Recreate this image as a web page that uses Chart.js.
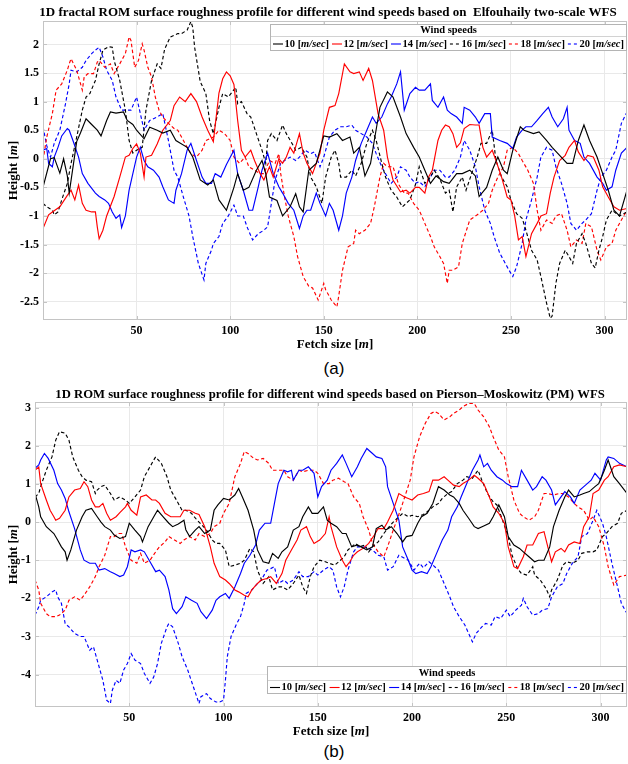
<!DOCTYPE html>
<html>
<head>
<meta charset="utf-8">
<script src="https://cdn.jsdelivr.net/npm/chart.js@4.4.1/dist/chart.umd.min.js"></script>
<style>
  html, body { margin: 0; padding: 0; background: #fff; width: 628px; height: 764px; overflow: hidden; }
  .panel { position: absolute; left: 0; }
  .tag { position: absolute; left: 0; width: 668px; text-align: center; line-height: 20px;
         font: 17px "Liberation Sans", Arial, sans-serif; color: #000; }
</style>
</head>
<body>
<canvas class="panel" id="chartA" width="628" height="355" style="top:0"></canvas>
<div class="tag" style="top:359px">(a)</div>
<canvas class="panel" id="chartB" width="628" height="360" style="top:380px"></canvas>
<div class="tag" style="top:742px">(b)</div>

<script>
// ---- shared legend entries ----
const windSpeeds = ['10', '12', '14', '16', '18', '20'];
const legendTitle = 'Wind speeds';

// ---- (a) Elfouhaily two-scale spectrum: [fetch m, height m] ----
const elf10 = [[0,-0.5],[4,0],[6,0.02],[9,-0.25],[11,0],[13,-0.3],[14,-0.6],[18,0.3],[20,0.45],[23,0.7],[26,0.6],[29,0.5],[31,0.4],[34,0.67],[36,0.82],[39,0.8],[43,0.82],[45,0.67],[48,0.6],[50,0.5],[54,0.35],[57,0.55],[61,0.5],[64,0.45],[68,0.5],[71,0.32],[77,0.2],[80,0.03],[84,-0.37],[88,-0.46],[91,-0.37],[94,-0.72],[98,-0.9],[102,-0.5],[104,-0.26],[107,-0.55],[110,-0.5],[114,-0.2],[117,-0.03],[119,-0.26],[121,-0.67],[125,-0.73],[128,-1.0],[132,-0.84],[135,-0.61],[137,-0.84],[139,-0.93],[142,-0.2],[146,-0.08],[150,0.4],[153,0.38],[157,0.44],[160,0.32],[164,0.38],[166,0.1],[169,0.2],[172,-0.3],[175,-0.08],[177,0.32],[180,0.9],[184,1.17],[187,1.08],[191,0.73],[194,0.44],[198,0.2],[201,0.03],[204,-0.2],[207,-0.43],[210,-0.3],[214,-0.4],[217,-0.43],[221,-0.26],[224,-0.26],[228,-0.2],[231,-0.3],[233,-0.66],[237,-0.5],[240,-0.2],[243,0.03],[246,-0.2],[248,-0.26],[251,0.15],[255,0.56],[257,0.5],[262,0.44],[265,0.47],[269,0.32],[272,0.2],[276,0.06],[280,-0.08],[283,-0.08],[286,0.32],[289,0.59],[292,0.32],[296,0.03],[299,-0.26],[302,-0.55],[305,-0.9],[308,-1.0],[312,-0.55]];
const elf12 = [[0,-1.22],[3,-0.98],[5,-0.93],[9,-0.84],[13,-0.64],[15,-0.55],[17,-0.72],[19,-0.46],[21,-0.78],[23,-0.9],[26,-0.93],[28,-0.93],[29,-1.19],[30,-1.4],[32,-1.25],[34,-1.0],[38,-0.66],[41,-0.32],[44,0.03],[46,0.06],[48,0.18],[50,0.26],[52,0.1],[54,-0.32],[55,0.03],[58,0.06],[61,0.26],[64,0.5],[68,0.67],[70,0.93],[73,1.08],[76,1.0],[79,1.14],[82,1.0],[85,0.73],[88,0.5],[91,0.3],[94,1.15],[96,1.4],[98,1.52],[100,1.45],[102,1.3],[104,0.67],[106,0.15],[108,0.03],[111,0.15],[113,-0.03],[116,-0.26],[118,-0.37],[121,-0.14],[123,-0.32],[126,0],[128,-0.08],[130,0.03],[132,0.2],[134,0.1],[137,0.44],[139,0.1],[141,-0.08],[144,-0.26],[146,-0.08],[148,0.1],[150,0.5],[153,0.9],[156,0.93],[158,1.14],[161,1.66],[164,1.52],[166,1.49],[169,1.52],[171,1.37],[174,1.58],[176,1.37],[179,0.79],[182,0.5],[184,0.03],[187,-0.37],[191,-0.58],[194,-0.55],[196,-0.6],[199,-0.5],[201,-0.5],[204,-0.6],[206,-0.32],[208,-0.2],[211,0.32],[213,0.5],[215,0.59],[217,0.56],[219,0.44],[221,0.2],[223,0.28],[225,0.53],[228,0.6],[231,0.59],[233,0.59],[235,0.2],[237,0.03],[240,0.15],[242,-0.03],[245,-0.32],[248,-0.67],[250,-0.72],[252,-1.0],[254,-1.42],[256,-1.36],[258,-1.71],[261,-1.31],[264,-1.13],[266,-1.0],[269,-0.96],[271,-0.6],[273,-0.32],[276,-0.03],[279,0.06],[281,0.2],[284,0.32],[286,0.12],[289,-0.03],[291,0.06],[294,0.03],[297,-0.2],[299,-0.49],[302,-0.67],[305,-0.84],[308,-0.9],[312,-0.87]];
const elf14 = [[0,0.15],[2,0.18],[3,-0.08],[5,-0.14],[6,0.03],[8,0.2],[10,0.4],[13,0.53],[14,0.5],[16,0.32],[19,0.03],[21,-0.26],[24,-0.43],[28,-0.6],[30,-0.66],[33,-0.72],[35,-0.78],[37,-0.93],[39,-1.04],[41,-0.98],[42,-1.2],[44,-1.0],[46,-0.55],[48,-0.26],[50,0.03],[52,0.2],[54,-0.03],[56,-0.14],[59,-0.2],[62,-0.32],[64,-0.49],[67,-0.72],[70,-0.78],[71,-0.55],[74,-0.26],[77,0.15],[79,0.27],[82,-0.03],[85,-0.32],[87,-0.43],[90,-0.43],[92,-0.26],[95,-0.32],[98,-0.1],[102,0.15],[104,-0.26],[107,-0.55],[110,-0.9],[112,-0.9],[115,-0.49],[117,-0.2],[120,0.1],[123,-0.26],[126,-0.49],[128,-0.6],[131,-0.78],[134,-0.9],[137,-1.22],[139,-1.0],[141,-0.9],[143,-0.9],[146,-0.6],[148,-0.78],[151,-1.0],[153,-0.78],[155,-0.9],[158,-1.25],[160,-1.0],[162,-0.6],[165,-0.32],[167,-0.03],[170,0.27],[173,0.5],[176,0.73],[178,0.62],[181,0.73],[184,0.96],[186,1.08],[189,1.31],[191,1.52],[193,0.85],[196,1.14],[199,1.25],[201,1.2],[204,1.2],[207,1.31],[208,1.02],[211,0.9],[214,1.08],[216,0.85],[218,0.79],[221,0.73],[224,0.62],[225,0.9],[228,0.85],[231,0.73],[233,0.62],[236,0.79],[239,0.79],[240,0.38],[244,0.32],[248,0.27],[251,0.18],[253,0.38],[256,0.5],[258,0.56],[261,0.56],[264,0.67],[267,0.79],[270,0.9],[272,0.73],[275,0.56],[278,0.7],[280,0.9],[281,0.5],[284,0.32],[287,0.27],[289,0.03],[292,-0.08],[296,-0.32],[299,-0.43],[301,-0.55],[304,-0.49],[306,-0.2],[309,0.1],[312,0.2]];
const elf16 = [[0,-0.78],[2,-0.84],[5,-0.9],[6,-0.98],[8,-0.93],[10,-0.72],[13,-0.43],[15,-0.08],[18,0.38],[21,0.85],[23,1.08],[25,1.14],[28,1.37],[30,1.66],[32,1.9],[35,1.96],[37,1.95],[38,1.72],[41,1.37],[44,0.85],[46,0.32],[48,0.1],[50,0.15],[53,0.2],[55,0.85],[58,1.37],[61,1.66],[63,1.58],[65,1.92],[68,2.13],[72,2.19],[74,2.19],[77,2.25],[79,2.4],[80,2.3],[81,1.95],[84,1.35],[87,1.14],[89,0.67],[91,0.44],[94,0.9],[96,1.14],[99,1.08],[103,1.25],[104,0.96],[106,1.0],[109,0.79],[111,0.73],[114,0.44],[117,0.15],[119,-0.08],[120,0.32],[122,0.44],[125,0.32],[128,0.59],[130,0.44],[133,0.27],[135,0.15],[138,0.2],[141,0.03],[143,-0.32],[146,-0.49],[149,-0.78],[151,-0.32],[154,0.03],[156,0.15],[158,-0.08],[159,-0.32],[162,-0.32],[165,-0.2],[167,-0.3],[170,-0.08],[173,0.27],[176,0.5],[178,0.32],[181,-0.08],[183,-0.32],[186,-0.55],[189,-0.67],[192,-0.84],[194,-0.78],[196,-0.72],[199,-0.45],[201,-0.14],[204,-0.43],[207,-0.32],[209,-0.2],[212,-0.35],[215,-0.6],[217,-0.55],[219,-0.93],[221,-0.49],[224,-0.32],[226,-0.55],[229,-0.26],[232,0.03],[234,0.27],[237,0.27],[240,0.5],[242,-0.03],[245,-0.32],[248,-0.49],[250,-0.72],[253,-0.96],[256,-1.04],[258,-1.25],[261,-1.6],[264,-1.77],[266,-2.06],[269,-2.52],[271,-2.79],[272,-2.75],[274,-2.18],[276,-1.83],[279,-1.6],[281,-1.71],[283,-1.83],[285,-1.48],[288,-1.31],[290,-1.48],[293,-1.83],[295,-1.91],[297,-1.6],[299,-1.36],[301,-1.07],[304,-0.9],[308,-1.0],[312,-0.93]];
const elf18 = [[0,-0.03],[2,0.38],[5,0.79],[7,1.2],[10,1.31],[13,1.55],[14,1.66],[15,1.75],[18,1.55],[21,1.2],[22,1.43],[24,1.49],[27,1.49],[29,1.69],[30,1.72],[33,1.6],[36,1.66],[38,1.49],[41,1.66],[44,1.84],[46,2.13],[47,2.07],[49,1.6],[51,1.72],[53,2.01],[54,1.9],[56,1.6],[58,1.43],[60,1.08],[62,0.85],[64,0.73],[67,0.62],[70,0.53],[72,0.5],[74,0.38],[77,0.2],[79,0.09],[82,0.03],[85,0.15],[87,0.32],[91,0.38],[94,0.5],[97,0.44],[100,0.32],[102,0.03],[105,-0.08],[108,0.03],[110,-0.14],[113,-0.2],[116,-0.26],[118,-0.26],[121,-0.03],[124,-0.08],[126,0.09],[127,-0.26],[129,-0.66],[131,-1.0],[134,-1.36],[136,-1.71],[139,-2.06],[142,-2.23],[144,-2.26],[147,-2.47],[150,-2.18],[151,-2.29],[154,-2.47],[157,-2.59],[158,-2.4],[160,-1.95],[163,-1.54],[166,-1.48],[167,-1.25],[169,-1.31],[172,-1.25],[175,-1.13],[177,-0.84],[180,-0.32],[182,-0.08],[184,-0.14],[187,-0.14],[190,-0.45],[193,-0.6],[195,-0.6],[198,-0.78],[201,-0.9],[204,-1.13],[207,-1.36],[209,-1.54],[212,-1.71],[214,-1.83],[216,-2.18],[217,-1.95],[219,-1.95],[222,-1.89],[224,-1.48],[228,-1.07],[232,-0.98],[235,-0.9],[238,-0.78],[240,-0.55],[243,-0.32],[246,-0.14],[248,0.15],[251,0.2],[254,0.09],[256,-0.03],[259,-0.2],[262,-0.43],[264,-0.9],[266,-1.25],[269,-1.07],[272,-1.13],[274,-1.0],[277,-0.96],[280,-1.25],[282,-1.54],[285,-1.42],[288,-1.48],[290,-1.13],[293,-1.19],[296,-1.6],[298,-1.77],[301,-1.54],[304,-1.48],[306,-1.25],[309,-1.07],[312,-0.9]];
const elf20 = [[0,0.56],[2,0.23],[4,0.03],[6,0.27],[9,0.5],[12,0.96],[14,1.31],[15,1.55],[18,1.52],[21,1.6],[23,1.72],[26,1.84],[28,1.9],[30,1.95],[32,1.78],[34,1.55],[37,1.37],[39,1.08],[42,0.85],[45,0.85],[47,0.85],[50,1.08],[52,0.79],[54,0.5],[57,0.67],[61,0.73],[64,0.79],[67,0.32],[70,-0.2],[72,-0.32],[75,-0.67],[78,-1.0],[80,-1.36],[83,-1.83],[86,-2.12],[87,-1.83],[90,-1.6],[91,-1.48],[94,-1.36],[96,-1.13],[99,-1.0],[102,-0.81],[104,-1.0],[107,-1.0],[109,-1.19],[112,-1.42],[115,-1.31],[118,-1.25],[120,-1.19],[122,-0.78],[124,-0.37],[127,-0.08],[129,-0.03],[132,0.03],[135,-0.03],[137,0.03],[140,0.15],[143,0.09],[145,0.12],[148,-0.14],[150,0.03],[153,0.38],[156,0.5],[159,0.56],[162,0.56],[165,0.59],[167,0.5],[170,0.44],[173,0.38],[176,0.27],[178,0.09],[181,-0.14],[184,-0.32],[186,-0.43],[189,-0.32],[191,-0.14],[194,-0.2],[196,-0.32],[199,-0.43],[201,-0.4],[204,-0.49],[207,-0.32],[209,-0.2],[212,-0.2],[215,-0.32],[217,-0.32],[220,-0.2],[223,0.03],[225,0.32],[228,0.15],[231,-0.14],[233,-0.49],[236,-0.9],[239,-1.13],[241,-1.36],[244,-1.65],[247,-1.83],[249,-1.95],[251,-2.06],[253,-1.89],[256,-1.48],[258,-1.07],[261,-0.72],[264,-0.32],[266,0.03],[269,0.2],[272,0.15],[274,-0.14],[277,-0.43],[280,-0.78],[282,-1.13],[285,-1.25],[288,-1.13],[290,-1.07],[293,-0.96],[296,-0.55],[298,-0.32],[301,-0.2],[304,0.03],[306,0.15],[309,0.62],[312,0.82]];

// ---- (b) Pierson–Moskowitz spectrum: [fetch m, height m] ----
const pm10 = [[0,0.75],[2,0.4],[3,0.14],[6,-0.12],[8,-0.21],[10,-0.3],[12,-0.47],[14,-0.65],[16,-0.78],[17,-1.0],[19,-0.73],[22,-0.21],[25,0.14],[27,0.31],[30,0.36],[33,0.14],[35,0.0],[37,-0.12],[40,-0.21],[42,-0.34],[45,-0.43],[48,-0.38],[50,-0.03],[53,-0.21],[56,-0.38],[57,-0.52],[60,-0.12],[63,0.14],[65,0.31],[68,0.14],[71,-0.03],[73,-0.12],[76,-0.05],[79,0.05],[80,-0.2],[82,-0.38],[85,-0.21],[87,-0.12],[90,-0.3],[93,-0.21],[95,0.31],[97,0.45],[100,0.62],[103,0.58],[106,0.71],[108,0.88],[110,0.66],[113,0.31],[116,-0.21],[118,-0.73],[121,-1.04],[124,-1.08],[126,-0.82],[129,-0.95],[131,-0.78],[134,-0.65],[137,-0.21],[140,-0.12],[142,0.14],[145,0.4],[147,0.23],[150,0.23],[153,0.4],[155,0.05],[157,-0.03],[160,-0.12],[163,-0.3],[165,-0.3],[168,-0.65],[171,-0.6],[173,-0.65],[176,-0.73],[179,-0.65],[181,-0.17],[184,-0.08],[186,-0.21],[189,-0.12],[192,-0.3],[195,-0.52],[197,-0.38],[200,-0.35],[203,-0.03],[205,0.14],[208,0.23],[211,0.49],[214,0.93],[217,0.84],[220,0.71],[222,0.66],[225,0.49],[227,0.31],[230,0.1],[233,-0.12],[235,-0.17],[238,-0.1],[241,-0.03],[243,0.14],[246,0.45],[249,0.14],[251,-0.38],[254,-0.6],[257,-0.69],[259,-0.78],[262,-0.91],[265,-1.04],[267,-1.0],[270,-1.0],[273,-0.65],[275,-0.12],[278,0.31],[281,0.66],[283,0.84],[286,0.66],[289,0.71],[291,0.75],[294,0.8],[297,0.93],[299,1.01],[302,1.36],[304,1.63],[307,1.19],[310,1.01],[314,0.75]];
const pm12 = [[0,1.36],[2,1.45],[3,1.01],[6,0.58],[8,0.31],[10,0.14],[11,0.05],[13,0.1],[16,0.31],[18,0.66],[21,0.84],[24,0.88],[26,1.06],[28,0.93],[30,0.58],[32,0.4],[34,0.4],[36,0.49],[38,0.23],[40,0.05],[43,0.14],[45,0.25],[48,0.4],[49,0.49],[51,0.31],[54,0.18],[56,0.66],[59,0.71],[62,0.58],[64,0.58],[66,0.49],[69,0.23],[72,0.14],[74,0.14],[77,0.14],[79,0.31],[82,0.31],[85,0.23],[87,0.2],[90,-0.12],[93,-0.65],[95,-1.08],[98,-1.43],[101,-1.52],[103,-1.61],[106,-1.78],[108,-1.83],[111,-1.92],[113,-1.96],[115,-1.78],[118,-1.61],[120,-1.52],[123,-1.48],[125,-1.43],[128,-1.61],[131,-1.35],[133,-1.0],[136,-0.73],[139,-0.47],[141,-0.21],[144,-0.12],[146,-0.38],[148,-0.56],[151,-0.47],[154,-0.3],[156,0.14],[157,-0.12],[160,-0.65],[163,-1.0],[165,-1.17],[167,-1.04],[169,-0.87],[171,-0.78],[174,-0.69],[177,-0.56],[180,-0.34],[182,-0.17],[185,-0.17],[187,0.0],[190,0.31],[193,0.75],[196,0.66],[198,0.62],[200,0.58],[203,0.71],[206,0.75],[209,0.8],[211,1.1],[214,1.1],[217,1.19],[219,1.1],[222,0.97],[225,0.93],[227,1.01],[230,1.1],[233,1.23],[235,1.15],[238,1.01],[241,0.66],[243,0.4],[246,0.23],[249,-0.03],[251,-0.65],[254,-1.17],[256,-1.22],[259,-0.91],[261,-0.6],[264,-0.6],[267,-0.3],[270,-0.25],[272,-0.65],[274,-1.04],[276,-0.78],[279,-0.69],[281,-0.78],[283,-0.6],[286,-0.52],[289,-0.56],[291,-0.12],[294,0.14],[296,0.75],[299,0.84],[302,1.1],[304,1.19],[307,1.45],[310,1.5],[314,1.45]];
const pm14 = [[0,1.41],[2,1.5],[3,1.63],[5,1.8],[7,1.67],[10,1.36],[12,1.01],[14,0.84],[16,0.62],[18,0.27],[21,-0.17],[24,-0.73],[26,-1.0],[29,-1.08],[32,-1.08],[34,-1.26],[37,-1.22],[40,-1.3],[42,-1.35],[45,-1.43],[47,-1.39],[49,-1.17],[51,-0.73],[53,-0.78],[56,-0.73],[58,-0.78],[61,-1.04],[64,-1.3],[66,-1.26],[69,-1.43],[71,-1.78],[73,-2.27],[75,-2.4],[78,-2.22],[80,-1.96],[83,-2.05],[86,-2.13],[88,-2.35],[91,-2.53],[94,-2.31],[96,-2.05],[98,-1.96],[101,-1.87],[103,-2.0],[106,-1.7],[109,-1.35],[111,-1.08],[114,-0.87],[117,-0.6],[119,-0.21],[122,-0.03],[125,-0.03],[127,0.49],[129,1.01],[132,1.36],[134,1.32],[136,1.36],[137,1.1],[140,1.36],[142,1.36],[145,1.45],[148,1.28],[150,0.66],[152,0.93],[155,1.1],[157,1.36],[160,1.54],[163,1.76],[165,1.54],[168,1.19],[171,1.45],[173,1.67],[176,1.93],[179,1.8],[181,1.71],[184,1.67],[186,1.45],[187,0.93],[190,0.49],[193,0.05],[195,-0.65],[198,-1.0],[200,-1.26],[202,-1.35],[205,-1.3],[208,-1.35],[210,-1.17],[213,-0.82],[216,-0.47],[219,-0.21],[221,0.14],[224,0.4],[226,0.66],[229,1.01],[232,1.36],[235,1.63],[236,1.76],[238,1.45],[240,1.54],[242,1.36],[245,1.19],[248,1.1],[250,1.01],[253,0.93],[256,0.93],[258,1.36],[261,1.1],[264,0.84],[266,0.93],[269,1.19],[271,1.1],[274,0.84],[276,0.45],[279,0.66],[281,0.8],[284,0.66],[286,0.49],[289,0.84],[292,0.97],[295,1.1],[297,1.28],[300,1.1],[303,1.63],[304,1.71],[307,1.67],[310,1.54],[314,1.45]];
const pm16 = [[0,0.66],[2,0.75],[3,0.93],[6,1.36],[9,1.71],[11,2.15],[13,2.37],[16,2.33],[18,2.15],[20,1.71],[23,1.36],[25,1.19],[27,1.1],[30,1.06],[32,0.75],[33,0.84],[35,0.93],[37,0.97],[40,0.75],[42,0.58],[45,0.66],[48,0.58],[50,0.49],[53,0.66],[56,0.84],[58,1.19],[61,1.45],[63,1.63],[64,1.71],[67,1.54],[70,1.19],[72,0.84],[75,0.58],[78,0.31],[80,0.31],[83,0.23],[86,0.05],[88,-0.05],[91,-0.21],[94,-0.47],[96,-0.56],[98,-0.56],[101,-0.73],[103,-1.17],[106,-1.13],[109,-1.08],[111,-1.0],[114,-0.69],[116,-0.78],[118,-1.26],[121,-1.61],[124,-1.43],[126,-1.78],[129,-1.7],[131,-1.7],[134,-1.78],[137,-1.61],[140,-1.39],[142,-1.7],[144,-1.87],[146,-1.43],[148,-1.17],[151,-1.0],[154,-1.04],[156,-1.08],[159,-1.13],[162,-1.0],[164,-0.91],[166,-0.73],[170,-0.56],[172,-0.65],[175,-0.6],[177,-0.78],[179,-0.65],[182,-0.52],[185,-0.3],[187,-0.17],[190,0.0],[193,0.14],[195,0.23],[198,0.14],[200,0.18],[203,0.14],[206,0.2],[208,0.27],[211,0.4],[214,0.49],[216,0.62],[219,0.75],[221,0.8],[224,1.01],[227,1.1],[229,1.19],[232,1.15],[235,1.36],[237,1.1],[240,0.75],[243,0.53],[245,0.45],[248,0.05],[251,-0.38],[253,-0.87],[256,-1.22],[258,-1.35],[261,-1.39],[264,-1.17],[265,-1.39],[268,-1.52],[271,-1.74],[273,-1.96],[274,-1.78],[277,-1.52],[280,-1.13],[282,-1.04],[285,-1.08],[288,-1.0],[290,-0.82],[293,-0.78],[296,-0.78],[298,-0.73],[301,-0.38],[303,-0.3],[306,-0.12],[309,-0.03],[311,0.23],[314,0.31]];
const pm18 = [[0,-1.52],[2,-1.78],[3,-2.13],[6,-2.4],[8,-2.48],[11,-2.48],[13,-2.44],[16,-2.31],[18,-2.05],[21,-1.96],[24,-2.05],[26,-1.92],[29,-1.7],[32,-1.43],[34,-1.17],[37,-0.87],[40,-0.38],[42,-0.38],[44,-0.3],[46,-0.3],[48,-0.65],[51,-1.0],[54,-1.08],[56,-0.82],[58,-1.08],[61,-1.0],[64,-0.78],[66,-0.65],[69,-0.52],[71,-0.38],[74,-0.47],[77,-0.56],[79,-0.47],[82,-0.38],[85,-0.47],[87,-0.3],[90,-0.38],[93,-0.3],[95,-0.12],[98,-0.03],[100,0.23],[103,0.49],[106,1.19],[109,1.54],[111,1.85],[113,1.8],[116,1.67],[118,1.63],[121,1.67],[124,1.54],[126,1.36],[129,1.36],[132,1.36],[134,1.19],[137,1.1],[140,1.36],[142,1.32],[145,1.36],[148,1.36],[150,1.28],[153,1.01],[156,1.01],[158,1.1],[161,1.15],[164,1.06],[166,1.01],[169,0.66],[172,0.49],[174,0.14],[177,-0.21],[179,-0.56],[182,-0.78],[185,-0.91],[187,-0.65],[190,-0.21],[193,0.2],[195,0.49],[199,1.1],[201,1.71],[204,2.24],[207,2.59],[210,2.85],[212,2.9],[214,2.85],[217,2.68],[220,2.76],[222,2.85],[225,2.94],[227,3.03],[230,3.11],[233,3.11],[235,2.94],[238,2.76],[241,2.5],[243,2.24],[246,1.89],[249,1.71],[251,1.19],[254,0.58],[257,0.23],[259,0.14],[262,0.05],[265,0.14],[267,0.31],[270,0.75],[272,0.75],[275,0.71],[278,0.75],[280,0.75],[283,0.66],[286,0.49],[288,0.4],[291,0.31],[294,0.05],[296,0.14],[299,-0.12],[302,-0.65],[304,-1.17],[307,-1.65],[310,-1.43],[314,-1.39]];
const pm20 = [[0,-2.44],[2,-2.22],[3,-2.05],[6,-1.96],[9,-1.83],[11,-1.78],[12,-1.96],[14,-2.13],[16,-2.66],[18,-2.75],[21,-2.92],[24,-3.0],[26,-3.0],[29,-3.36],[31,-3.27],[33,-3.62],[34,-3.8],[36,-4.15],[38,-4.67],[40,-4.76],[41,-4.41],[43,-4.15],[45,-4.23],[47,-3.88],[49,-3.71],[51,-3.45],[53,-3.62],[56,-3.71],[58,-3.97],[61,-4.23],[63,-4.06],[65,-3.71],[67,-3.18],[70,-2.75],[71,-2.66],[73,-2.75],[76,-3.18],[78,-3.53],[81,-3.88],[84,-4.32],[87,-4.76],[88,-4.58],[91,-4.5],[93,-4.63],[96,-4.72],[98,-4.72],[100,-4.67],[101,-4.15],[102,-3.53],[104,-3.0],[107,-2.66],[109,-2.48],[111,-2.13],[112,-1.87],[115,-1.78],[118,-1.61],[120,-1.52],[123,-1.26],[125,-1.22],[127,-1.17],[129,-1.61],[132,-1.52],[134,-1.61],[137,-1.52],[140,-1.3],[142,-1.43],[145,-1.43],[148,-1.3],[150,-1.39],[153,-1.26],[156,-1.17],[158,-1.26],[160,-1.7],[162,-1.96],[164,-1.7],[166,-1.26],[169,-0.78],[171,-0.65],[174,-0.65],[177,-0.69],[179,-0.73],[182,-0.87],[185,-0.91],[187,-1.26],[190,-1.17],[193,-0.87],[196,-0.95],[198,-1.0],[201,-1.26],[204,-1.08],[206,-1.2],[209,-1.04],[212,-1.17],[214,-1.26],[217,-1.61],[220,-1.96],[222,-2.22],[225,-2.48],[228,-2.7],[230,-2.92],[232,-3.14],[234,-2.92],[237,-2.75],[239,-2.66],[242,-2.7],[244,-2.48],[247,-2.53],[250,-2.31],[252,-2.48],[255,-2.31],[258,-2.18],[259,-2.0],[261,-2.22],[264,-2.44],[267,-2.4],[269,-2.31],[272,-2.27],[274,-1.96],[277,-1.7],[280,-1.61],[282,-1.35],[285,-1.08],[288,-0.91],[290,-0.38],[293,-0.3],[296,0.05],[298,0.31],[301,-0.03],[303,-0.38],[306,-1.08],[309,-1.7],[311,-2.13],[314,-2.4]];

// ---- axis ticks ----
const fetchTicks = [50, 100, 150, 200, 250, 300];
const elfHeightTicks = [-2.5, -2, -1.5, -1, -0.5, 0, 0.5, 1, 1.5, 2];
const pmHeightTicks = [-4, -3, -2, -1, 0, 1, 2, 3];

// ---- styling ----
const lineColors = ['#000000', '#ff0000', '#0000ff', '#000000', '#ff0000', '#0000ff'];
const dashed = [false, false, false, true, true, true];
const SERIF = '"Liberation Serif", "Times New Roman", serif';
const GRID = '#e9e9e9';
const FRAME = '#c4c4c4';

// draws a run of text pieces (some italic) centred on x
function richText(ctx, parts, x, y, size) {
  const fontOf = p => (p.it ? 'italic ' : '') + 'bold ' + size + 'px ' + SERIF;
  let w = 0;
  parts.forEach(p => { ctx.font = fontOf(p); w += ctx.measureText(p.t).width; });
  let cx = x - w / 2;
  ctx.textAlign = 'left';
  parts.forEach(p => { ctx.font = fontOf(p); ctx.fillText(p.t, cx, y); cx += ctx.measureText(p.t).width; });
  return w;
}
function measureRich(ctx, parts, size) {
  let w = 0;
  parts.forEach(p => { ctx.font = (p.it ? 'italic ' : '') + 'bold ' + size + 'px ' + SERIF; w += ctx.measureText(p.t).width; });
  return w;
}
const unitParts = s => [{t: s + ' ['}, {t: 'm/sec', it: true}, {t: ']'}];

function decorations(opt) {
  return {
    id: 'decor',
    afterDraw(chart) {
      const ctx = chart.ctx, a = chart.chartArea;
      ctx.save();
      // frame and inward tick marks
      ctx.strokeStyle = FRAME; ctx.lineWidth = 1;
      ctx.strokeRect(Math.round(a.left) + 0.5, Math.round(a.top) + 0.5,
                     Math.round(a.right - a.left) - 1, Math.round(a.bottom - a.top) - 1);
      ctx.beginPath();
      chart.scales.x.ticks.forEach(t => {
        const px = Math.round(chart.scales.x.getPixelForValue(t.value)) + 0.5;
        ctx.moveTo(px, a.bottom); ctx.lineTo(px, a.bottom - 4);
        ctx.moveTo(px, a.top); ctx.lineTo(px, a.top + 4);
      });
      chart.scales.y.ticks.forEach(t => {
        const py = Math.round(chart.scales.y.getPixelForValue(t.value)) + 0.5;
        ctx.moveTo(a.left, py); ctx.lineTo(a.left + 4, py);
        ctx.moveTo(a.right, py); ctx.lineTo(a.right - 4, py);
      });
      ctx.stroke();

      // titles
      ctx.fillStyle = '#000'; ctx.textBaseline = 'middle';
      ctx.font = 'bold ' + opt.titleSize + 'px ' + SERIF;
      ctx.textAlign = 'center';
      ctx.fillText(opt.title, opt.titleX, opt.titleY);
      richText(ctx, [{t: 'Fetch size ['}, {t: 'm', it: true}, {t: ']'}], opt.xTitleX, opt.xTitleY, 13);
      ctx.save();
      ctx.translate(opt.yTitleX, (a.top + a.bottom) / 2);
      ctx.rotate(-Math.PI / 2);
      richText(ctx, [{t: 'Height ['}, {t: 'm', it: true}, {t: ']'}], 0, 0, 13);
      ctx.restore();

      // legend box with title row and a rule under it
      const b = opt.legend;
      ctx.fillStyle = '#fff'; ctx.fillRect(b.x, b.y, b.w, b.h);
      ctx.strokeStyle = '#b4b4b4';
      ctx.strokeRect(b.x + 0.5, b.y + 0.5, b.w - 1, b.h - 1);
      ctx.strokeStyle = '#d2d2d2';
      ctx.beginPath(); ctx.moveTo(b.x + 1, b.y + b.rule + 0.5); ctx.lineTo(b.x + b.w - 1, b.y + b.rule + 0.5); ctx.stroke();
      ctx.fillStyle = '#000';
      ctx.font = 'bold 10.5px ' + SERIF; ctx.textAlign = 'center';
      ctx.fillText(legendTitle, b.x + b.w / 2, b.y + b.rule / 2 + 0.5);
      const sample = 10, gap = 1.5, fs = 10.5;
      const widths = windSpeeds.map(s => sample + gap + measureRich(ctx, unitParts(s), fs));
      const total = widths.reduce((p, c) => p + c, 0);
      const space = (b.w - 6 - total) / (windSpeeds.length - 1);
      let x = b.x + 3;
      const iy = b.y + b.rule + (b.h - b.rule) / 2 + 0.5;
      windSpeeds.forEach((s, i) => {
        ctx.strokeStyle = lineColors[i]; ctx.lineWidth = 1.1;
        ctx.setLineDash(dashed[i] ? [3, 3] : []);
        ctx.beginPath(); ctx.moveTo(x, iy); ctx.lineTo(x + sample, iy); ctx.stroke();
        ctx.setLineDash([]);
        ctx.fillStyle = '#000';
        const tw = widths[i] - sample - gap;
        richText(ctx, unitParts(s), x + sample + gap + tw / 2, iy, fs);
        x += widths[i] + space;
      });
      ctx.restore();
    }
  };
}

function buildChart(id, series, opt) {
  const datasets = series.map((d, i) => ({
    label: windSpeeds[i] + ' [m/sec]',
    data: d,
    borderColor: lineColors[i],
    borderWidth: 1.15,
    borderDash: dashed[i] ? [3.5, 2.5] : [],
    pointRadius: 0,
    fill: false,
    tension: 0
  }));
  const tickFont = {family: SERIF, weight: 'bold', size: 12};
  return new Chart(document.getElementById(id), {
    type: 'line',
    data: {datasets},
    options: {
      responsive: false,
      animation: false,
      events: [],
      layout: {padding: {left: 0, top: opt.areaTop, right: 1, bottom: 0}},
      plugins: {legend: {display: false}, title: {display: false}, tooltip: {enabled: false}},
      scales: {
        x: {
          type: 'linear', min: opt.xMin, max: opt.xMax,
          afterBuildTicks: s => { s.ticks = fetchTicks.map(v => ({value: v})); },
          afterFit: s => { s.height = opt.xAxisH; },
          grid: {color: GRID, drawTicks: false},
          border: {display: false},
          ticks: {font: tickFont, color: '#000', padding: 4, maxRotation: 0, autoSkip: false,
                  callback: v => String(v)}
        },
        y: {
          type: 'linear', min: opt.yMin, max: opt.yMax,
          afterBuildTicks: s => { s.ticks = opt.yTicks.map(v => ({value: v})); },
          afterFit: s => { s.width = opt.yAxisW; },
          grid: {color: GRID, drawTicks: false},
          border: {display: false},
          ticks: {font: tickFont, color: '#000', padding: 4, autoSkip: false,
                  callback: v => String(v)}
        }
      }
    },
    plugins: [decorations(opt)]
  });
}

buildChart('chartA', [elf10, elf12, elf14, elf16, elf18, elf20], {
  xMin: 0, xMax: 312, yMin: -2.82, yMax: 2.41, yTicks: elfHeightTicks,
  areaTop: 21, xAxisH: 35, yAxisW: 43,
  title: '1D fractal ROM surface roughness profile for different wind speeds based on  Elfouhaily two-scale WFS',
  titleSize: 13, titleX: 328, titleY: 12.5,
  xTitleX: 335, xTitleY: 345, yTitleX: 14,
  legend: {x: 270, y: 24, w: 357, h: 27, rule: 12}
});

buildChart('chartB', [pm10, pm12, pm14, pm16, pm18, pm20], {
  xMin: 0, xMax: 314, yMin: -4.85, yMax: 3.15, yTicks: pmHeightTicks,
  areaTop: 22, xAxisH: 33, yAxisW: 35,
  title: '1D ROM surface roughness profile for different wind speeds based on Pierson\u2013Moskowitz (PM) WFS',
  titleSize: 12.7, titleX: 330, titleY: 15,
  xTitleX: 331, xTitleY: 352, yTitleX: 14,
  legend: {x: 267, y: 286, w: 360, h: 28, rule: 14}
});
</script>
</body>
</html>
